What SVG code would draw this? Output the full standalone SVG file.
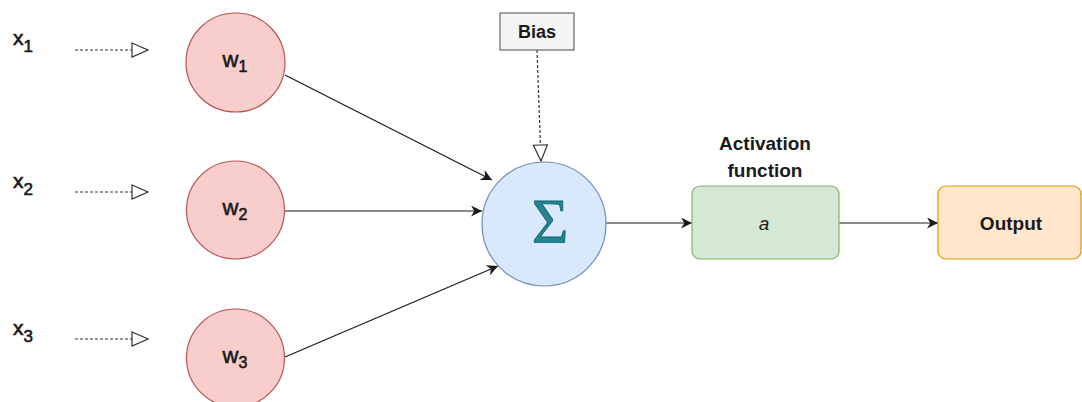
<svg xmlns="http://www.w3.org/2000/svg" width="1082" height="402" viewBox="0 0 1082 402">
<style>
.t{font-family:"Liberation Sans",Arial,sans-serif;fill:#1a1a1a}
.v{stroke:#1a1a1a;stroke-width:0.6}
.w{fill:#f8cecc;stroke:#b85450;stroke-width:1.2}
.c{fill:none;stroke:#1a1a1a;stroke-width:1.2}
.d{fill:none;stroke:#333;stroke-width:1.2;stroke-dasharray:3 2}
</style>
<defs>
<marker id="ah" viewBox="0 0 10 10" refX="10" refY="5" markerWidth="11" markerHeight="11" markerUnits="userSpaceOnUse" orient="auto"><path d="M0,0 L10,5 L0,10 L3,5 Z" fill="#1a1a1a"/></marker>
<marker id="oh" viewBox="0 0 18 16" refX="17" refY="8" markerWidth="18" markerHeight="16" markerUnits="userSpaceOnUse" orient="auto"><path d="M1,1 L17,8 L1,15 Z" fill="#fff" stroke="#333" stroke-width="1.2"/></marker>
</defs>
<rect width="1082" height="402" fill="#fff"/>
<g id="connectors">
<line class="d" x1="75" y1="50" x2="148" y2="50" marker-end="url(#oh)"/>
<line class="d" x1="75" y1="192" x2="148" y2="192" marker-end="url(#oh)"/>
<line class="d" x1="75" y1="339" x2="148" y2="339" marker-end="url(#oh)"/>
<line class="d" x1="537" y1="50" x2="541" y2="161" marker-end="url(#oh)"/>
<line class="c" x1="285" y1="75" x2="492" y2="180" marker-end="url(#ah)"/>
<line class="c" x1="285" y1="211" x2="482" y2="211" marker-end="url(#ah)"/>
<line class="c" x1="285" y1="357" x2="498" y2="266" marker-end="url(#ah)"/>
<line class="c" x1="606" y1="223" x2="692" y2="223" marker-end="url(#ah)"/>
<line class="c" x1="839" y1="223" x2="938" y2="223" marker-end="url(#ah)"/>
</g>
<g id="x1"><text class="t v" x="13" y="45" font-size="21">x<tspan font-size="17" dy="7">1</tspan></text></g>
<g id="x2"><text class="t v" x="13" y="188" font-size="21">x<tspan font-size="17" dy="7">2</tspan></text></g>
<g id="x3"><text class="t v" x="13" y="335" font-size="21">x<tspan font-size="17" dy="7">3</tspan></text></g>
<g id="w1"><circle class="w" cx="235.5" cy="62.5" r="49.5"/><text class="t v" x="235" y="67" font-size="22" text-anchor="middle">w<tspan font-size="16" dy="5">1</tspan></text></g>
<g id="w2"><circle class="w" cx="235.5" cy="210" r="49"/><text class="t v" x="235" y="215" font-size="22" text-anchor="middle">w<tspan font-size="16" dy="5">2</tspan></text></g>
<g id="w3"><circle class="w" cx="235.5" cy="358" r="49"/><text class="t v" x="235" y="363" font-size="22" text-anchor="middle">w<tspan font-size="16" dy="5">3</tspan></text></g>
<g id="bias"><rect x="500" y="13" width="74" height="37" fill="#f5f5f5" stroke="#666" stroke-width="1.2"/><text class="t" x="537" y="38" font-size="18" font-weight="bold" text-anchor="middle" fill="#333">Bias</text></g>
<g id="sum"><circle cx="544" cy="224" r="62" fill="#dae8fc" stroke="#6c8ebf" stroke-width="1.2"/><text x="550" y="243" font-family="Liberation Serif,serif" font-size="63" fill="#238592" stroke="#0f5f6a" stroke-width="0.8" text-anchor="middle">Σ</text></g>
<g id="activation"><text class="t" x="765" y="150" font-size="19" font-weight="bold" text-anchor="middle">Activation</text><text class="t" x="765" y="177" font-size="19" font-weight="bold" text-anchor="middle">function</text><rect x="692" y="186" width="147" height="73" rx="8" fill="#d5e8d4" stroke="#82b366" stroke-width="1.2"/><text class="t" x="764" y="230" font-size="19" font-style="italic" text-anchor="middle">a</text></g>
<g id="output"><rect x="938" y="186" width="143" height="73" rx="8" fill="#ffe6cc" stroke="#d79b00" stroke-width="1.2"/><text class="t" x="1011" y="230" font-size="19" font-weight="bold" text-anchor="middle">Output</text></g>
</svg>
